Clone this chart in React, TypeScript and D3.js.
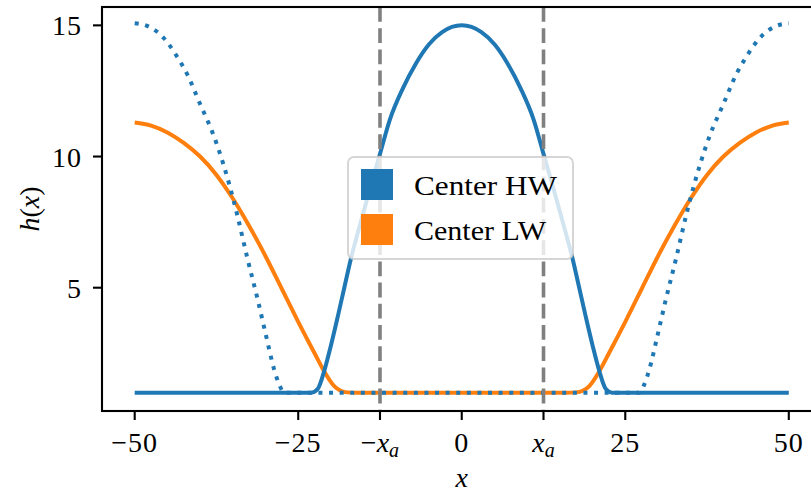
import React from "react";
import * as d3 from "d3";

// Water-depth profiles h(x) for the two centre configurations.
const hwX = [-50, -30, -24, -23, -22, -21, -20, -19, -18, -17, -16, -15, -14, -12.5, -11, -9, -7, -5, -3, 0, 3, 5, 7, 9, 11, 12.5, 14, 15, 16, 17, 18, 19, 20, 21, 22, 23, 24, 30, 50];
const hwY = [1, 1, 1, 1.0, 1.15, 1.85, 2.8, 3.85, 4.95, 6.05, 7.0, 7.9, 8.8, 10.1, 11.4, 12.6, 13.55, 14.28, 14.74, 15.0, 14.74, 14.28, 13.55, 12.6, 11.4, 10.1, 8.8, 7.9, 7.0, 6.05, 4.95, 3.85, 2.8, 1.85, 1.15, 1.0, 1, 1, 1];

const edgeX = [-50, -48, -45.5, -43.5, -42, -40, -38, -36.5, -35.5, -34.3, -32.8, -31.2, -29.9, -28.7, -27.8, -27.2, -20, 0, 20, 27.2, 27.8, 28.7, 29.9, 31.2, 32.8, 34.3, 35.5, 36.5, 38, 40, 42, 43.5, 45.5, 48, 50];
const edgeY = [15.08, 14.97, 14.5, 13.8, 13.15, 12.0, 10.85, 9.75, 8.9, 7.75, 6.15, 4.55, 3.15, 1.9, 1.25, 1.0, 1, 1, 1, 1.0, 1.25, 1.9, 3.15, 4.55, 6.15, 7.75, 8.9, 9.75, 10.85, 12.0, 13.15, 13.8, 14.5, 14.97, 15.08];

const lwX = [-50, -47.5, -45, -42.5, -40, -37.5, -35, -32.5, -30, -27.5, -25, -22.5, -21, -19.5, -18.5, -17.5, -16, 0, 16, 17.5, 18.5, 19.5, 21, 22.5, 25, 27.5, 30, 32.5, 35, 37.5, 40, 42.5, 45, 47.5, 50];
const lwY = [11.3, 11.18, 10.92, 10.52, 10.0, 9.3, 8.4, 7.35, 6.2, 4.95, 3.7, 2.5, 1.8, 1.25, 1.07, 1.01, 1, 1, 1, 1.01, 1.07, 1.25, 1.8, 2.5, 3.7, 4.95, 6.2, 7.35, 8.4, 9.3, 10.0, 10.52, 10.92, 11.18, 11.3];

const xa = 12.5;
const xTickVals = [-50, -25, -xa, 0, xa, 25, 50];
const xTickText = ["−50", "−25", "-xa", "0", "xa", "25", "50"];
const yTickVals = [5, 10, 15];
const legendLabels = ["Center HW", "Center LW"];
const colors = ["#1f77b4", "#ff7f0e"];

const W = 811;
const H = 494;
const FONT = "'Liberation Serif', 'DejaVu Serif', serif";
const FS = 28;

export default function App() {
  const x = d3.scaleLinear().domain([-55, 55]).range([102, 821.5]);
  const y = d3.scaleLinear().domain([0.3, 15.7]).range([411, 7]);

  const line = d3
    .line<[number, number]>()
    .x((d) => x(d[0]))
    .y((d) => y(d[1]))
    .curve(d3.curveMonotoneX);

  const zip = (a: number[], b: number[]) => a.map((v, i) => [v, b[i]] as [number, number]);
  const hwPath = line(zip(hwX, hwY)) || "";
  const edgePath = line(zip(edgeX, edgeY)) || "";
  const lwPath = line(zip(lwX, lwY)) || "";

  const x0 = x(-55);
  const x1 = x(55);
  const yTop = y(15.7);
  const yBot = y(0.3);

  const legX = 348;
  const legY = 157;
  const legW = 225;
  const legH = 102;

  return (
    <svg width={W} height={H} style={{ display: "block", position: "absolute", left: 0, top: 0 }}>
      <rect x={0} y={0} width={W} height={H} fill="white" />
      <defs>
        <clipPath id="plotArea">
          <rect x={x0} y={yTop} width={x1 - x0} height={yBot - yTop} />
        </clipPath>
      </defs>
      <g clipPath="url(#plotArea)">
        <path d={lwPath} fill="none" stroke={colors[1]} strokeWidth={4} strokeLinejoin="round" />
        <path d={hwPath} fill="none" stroke={colors[0]} strokeWidth={4} strokeLinejoin="round" />
        <path d={edgePath} fill="none" stroke={colors[0]} strokeWidth={4} strokeDasharray="4 6.6" />
        {[-xa, xa].map((v) => (
          <line key={v} x1={x(v)} x2={x(v)} y1={yTop} y2={yBot} stroke="#808080" strokeWidth={3.6} strokeDasharray="14.8 6.4" />
        ))}
      </g>

      {/* frame */}
      <rect x={x0} y={yTop} width={x1 - x0} height={yBot - yTop} fill="none" stroke="black" strokeWidth={2.1} />

      {/* x ticks */}
      {xTickVals.map((v, i) => {
        const t = xTickText[i];
        const px = x(v);
        let label: React.ReactNode;
        if (t === "xa" || t === "-xa") {
          label = (
            <text x={px} y={452} textAnchor="middle" fontFamily={FONT} fontSize={FS}>
              {t === "-xa" ? <tspan>−</tspan> : null}
              <tspan fontStyle="italic">x</tspan>
              <tspan fontStyle="italic" fontSize={20} dy={5}>a</tspan>
            </text>
          );
        } else {
          label = (
            <text x={px} y={452} textAnchor="middle" fontFamily={FONT} fontSize={FS} letterSpacing={1}>
              {t}
            </text>
          );
        }
        return (
          <g key={i}>
            <line x1={px} x2={px} y1={yBot} y2={yBot + 9} stroke="black" strokeWidth={2.1} />
            {label}
          </g>
        );
      })}

      {/* y ticks */}
      {yTickVals.map((v) => (
        <g key={v}>
          <line x1={x0 - 9} x2={x0} y1={y(v)} y2={y(v)} stroke="black" strokeWidth={2.1} />
          <text x={x0 - 20} y={y(v) + 10} textAnchor="end" fontFamily={FONT} fontSize={FS} letterSpacing={1}>
            {v}
          </text>
        </g>
      ))}

      {/* axis labels */}
      <text x={x(0)} y={487} textAnchor="middle" fontFamily={FONT} fontSize={FS} fontStyle="italic">
        x
      </text>
      <text transform={`translate(39, ${(yTop + yBot) / 2}) rotate(-90)`} textAnchor="middle" fontFamily={FONT} fontSize={FS}>
        <tspan fontStyle="italic">h</tspan>(<tspan fontStyle="italic">x</tspan>)
      </text>

      {/* legend */}
      <rect x={legX} y={legY} width={legW} height={legH} rx={6} fill="white" fillOpacity={0.8} stroke="#cccccc" strokeOpacity={0.8} strokeWidth={2} />
      {legendLabels.map((lab, i) => (
        <g key={lab}>
          <rect x={361} y={169 + i * 45} width={32} height={31} fill={colors[i]} />
          <text x={414} y={195 + i * 45} fontFamily={FONT} fontSize={FS} textLength={i === 0 ? 143 : 132} lengthAdjust="spacingAndGlyphs">
            {lab}
          </text>
        </g>
      ))}
    </svg>
  );
}
